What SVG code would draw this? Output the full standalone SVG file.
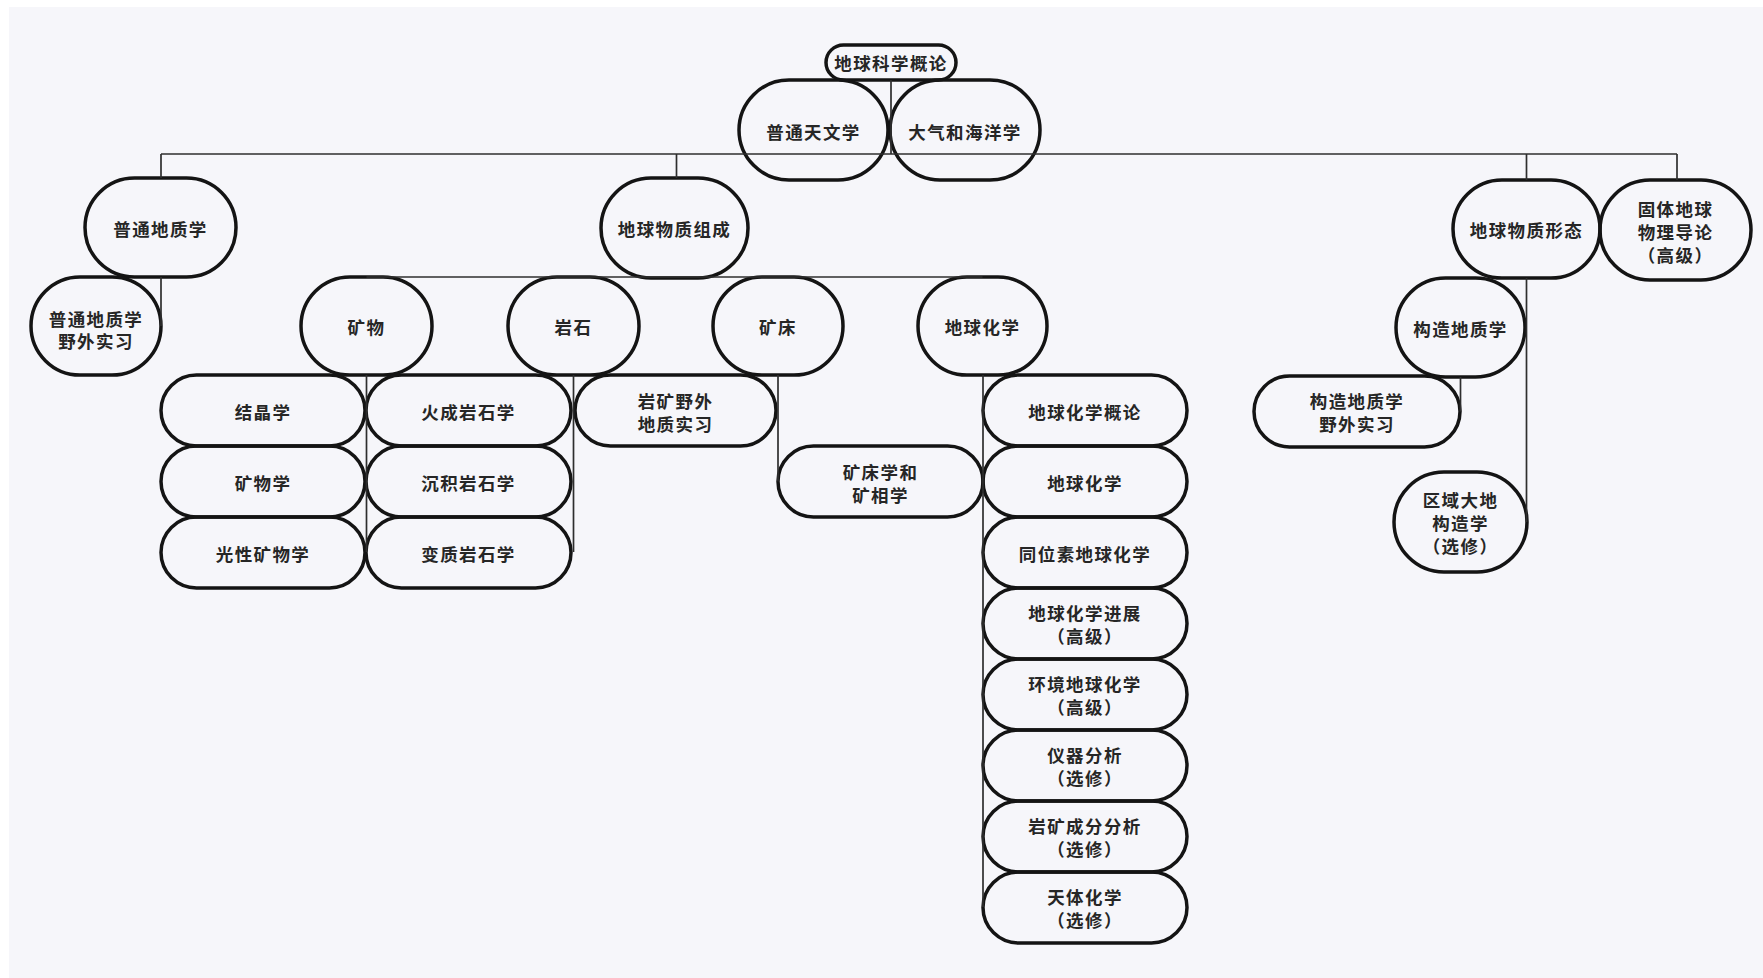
<svg xmlns="http://www.w3.org/2000/svg" width="1763" height="978" viewBox="0 0 1763 978">
  <style>
    .node { fill: none; stroke: #141414; stroke-width: 3.5; }
    .link { fill: none; stroke: #2e2e2e; stroke-width: 1.7; }
    .t { font-family: "Noto Sans CJK SC", "Noto Sans", sans-serif; font-size: 17.5px; font-weight: 700; letter-spacing: 1.4px; fill: #262626; text-anchor: middle; dominant-baseline: central; }
  </style>

  <!-- page -->
  <rect x="0" y="0" width="1763" height="978" fill="#ffffff"/>
  <rect x="9" y="7" width="1754" height="971" fill="#f6f6fa"/>

  <!-- nodes -->
  <g id="n-dqkxgl"><rect class="node" x="826" y="45" width="130" height="35" rx="17.5"/><text class="t" x="891" y="62.5">地球科学概论</text></g>
  <g id="n-ptdwx"><rect class="node" x="739" y="80" width="149" height="100" rx="50"/><text class="t" x="813.5" y="131">普通天文学</text></g>
  <g id="n-dqhhyx"><rect class="node" x="890" y="80" width="150" height="100" rx="50"/><text class="t" x="965" y="131">大气和海洋学</text></g>

  <g id="n-ptdzx"><rect class="node" x="85" y="178" width="151" height="99" rx="49.5"/><text class="t" x="160.5" y="228">普通地质学</text></g>
  <g id="n-ptdzx-sx"><rect class="node" x="31" y="277" width="130" height="98" rx="49"/><text class="t" x="96" y="318">普通地质学<tspan x="96" dy="22">野外实习</tspan></text></g>
  <g id="n-dqwzzc"><rect class="node" x="601" y="178" width="147" height="100" rx="50"/><text class="t" x="674.5" y="228">地球物质组成</text></g>
  <g id="n-dqwzxt"><rect class="node" x="1453" y="180" width="147" height="98" rx="49"/><text class="t" x="1526.5" y="229">地球物质形态</text></g>
  <g id="n-gtdqwl"><rect class="node" x="1600" y="180" width="151" height="100" rx="50"/><text class="t" x="1675.5" y="208">固体地球<tspan x="1675.5" dy="23">物理导论</tspan><tspan x="1675.5" dy="23">（高级）</tspan></text></g>

  <g id="n-kw"><rect class="node" x="301" y="277" width="131" height="98" rx="49"/><text class="t" x="366.5" y="326">矿物</text></g>
  <g id="n-ys"><rect class="node" x="508" y="277" width="131" height="98" rx="49"/><text class="t" x="573.5" y="326">岩石</text></g>
  <g id="n-kc"><rect class="node" x="713" y="277" width="130" height="98" rx="49"/><text class="t" x="778" y="326">矿床</text></g>
  <g id="n-dqhx"><rect class="node" x="918" y="277" width="129" height="98" rx="49"/><text class="t" x="982.5" y="326">地球化学</text></g>
  <g id="n-gzdzx"><rect class="node" x="1396" y="278" width="129" height="99" rx="49.5"/><text class="t" x="1460.5" y="328">构造地质学</text></g>

  <!-- mineral column -->
  <g id="n-jjx"><rect class="node" x="161" y="375" width="204" height="71" rx="35.5"/><text class="t" x="263" y="411">结晶学</text></g>
  <g id="n-kwx"><rect class="node" x="161" y="446" width="204" height="71" rx="35.5"/><text class="t" x="263" y="482">矿物学</text></g>
  <g id="n-gxkwx"><rect class="node" x="161" y="517" width="204" height="71" rx="35.5"/><text class="t" x="263" y="553">光性矿物学</text></g>

  <!-- rock column -->
  <g id="n-hcysx"><rect class="node" x="366" y="375" width="205" height="71" rx="35.5"/><text class="t" x="468.5" y="411">火成岩石学</text></g>
  <g id="n-cjysx"><rect class="node" x="366" y="446" width="205" height="71" rx="35.5"/><text class="t" x="468.5" y="482">沉积岩石学</text></g>
  <g id="n-bzysx"><rect class="node" x="366" y="517" width="205" height="71" rx="35.5"/><text class="t" x="468.5" y="553">变质岩石学</text></g>

  <g id="n-ykyw"><rect class="node" x="575" y="375" width="201" height="71" rx="35.5"/><text class="t" x="675.5" y="400">岩矿野外<tspan x="675.5" dy="23">地质实习</tspan></text></g>
  <g id="n-kcx"><rect class="node" x="778" y="446" width="205" height="71" rx="35.5"/><text class="t" x="880.5" y="471">矿床学和<tspan x="880.5" dy="23">矿相学</tspan></text></g>

  <!-- geochemistry column -->
  <g id="n-dqhxgl"><rect class="node" x="983" y="375" width="204" height="71" rx="35.5"/><text class="t" x="1085" y="411">地球化学概论</text></g>
  <g id="n-dqhx2"><rect class="node" x="983" y="446" width="204" height="71" rx="35.5"/><text class="t" x="1085" y="482">地球化学</text></g>
  <g id="n-twsdqhx"><rect class="node" x="983" y="517" width="204" height="71" rx="35.5"/><text class="t" x="1085" y="553">同位素地球化学</text></g>
  <g id="n-dqhxjz"><rect class="node" x="983" y="588" width="204" height="71" rx="35.5"/><text class="t" x="1085" y="612">地球化学进展<tspan x="1085" dy="23">（高级）</tspan></text></g>
  <g id="n-hjdqhx"><rect class="node" x="983" y="659" width="204" height="71" rx="35.5"/><text class="t" x="1085" y="683">环境地球化学<tspan x="1085" dy="23">（高级）</tspan></text></g>
  <g id="n-yqfx"><rect class="node" x="983" y="730" width="204" height="71" rx="35.5"/><text class="t" x="1085" y="754">仪器分析<tspan x="1085" dy="23">（选修）</tspan></text></g>
  <g id="n-ykcffx"><rect class="node" x="983" y="801" width="204" height="71" rx="35.5"/><text class="t" x="1085" y="825">岩矿成分分析<tspan x="1085" dy="23">（选修）</tspan></text></g>
  <g id="n-tthx"><rect class="node" x="983" y="872" width="204" height="71" rx="35.5"/><text class="t" x="1085" y="896">天体化学<tspan x="1085" dy="23">（选修）</tspan></text></g>

  <!-- structure branch -->
  <g id="n-gzdzx-sx"><rect class="node" x="1254" y="376" width="206" height="71" rx="35.5"/><text class="t" x="1357" y="400">构造地质学<tspan x="1357" dy="23">野外实习</tspan></text></g>
  <g id="n-qydd"><rect class="node" x="1394" y="472" width="133" height="100" rx="50"/><text class="t" x="1460.5" y="499">区域大地<tspan x="1460.5" dy="23">构造学</tspan><tspan x="1460.5" dy="23">（选修）</tspan></text></g>

  <!-- connectors -->
  <g id="connectors">
    <path class="link" d="M891 80 V154"/>
    <path class="link" d="M161 154 H1677"/>
    <path class="link" d="M161 154 V178 M161 277 V326"/>
    <path class="link" d="M676.5 154 V178"/>
    <path class="link" d="M1526.5 154 V180 M1526.5 278 V522"/>
    <path class="link" d="M1677 154 V180"/>
    <path class="link" d="M366.5 277 H982.5"/>
    <path class="link" d="M366.5 375 V552"/>
    <path class="link" d="M573.5 375 V552"/>
    <path class="link" d="M778 375 V481.5"/>
    <path class="link" d="M983 375 V907"/>
    <path class="link" d="M1460.5 377 V411.5"/>
  </g>
</svg>
